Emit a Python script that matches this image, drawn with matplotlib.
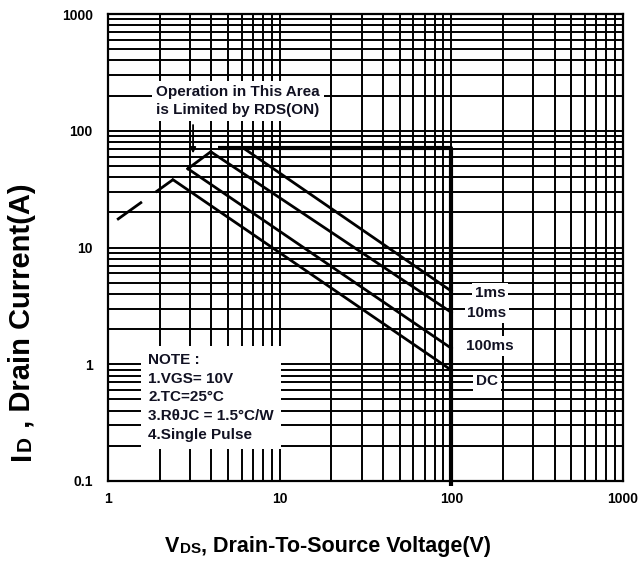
import matplotlib
matplotlib.use('Agg')
import matplotlib.pyplot as plt
from matplotlib.ticker import LogLocator, NullFormatter

plt.rcParams['font.family'] = ['Liberation Sans', 'DejaVu Sans']

# ---- data ----
x_ticks = [1, 10, 100, 1000]
x_tick_labels = ['1', '10', '100', '1000']
y_ticks = [0.1, 1, 10, 100, 1000]
y_tick_labels = ['0.1', '1', '10', '100', '1000']

rds_dash_v = [1.13, 2.39]
rds_dash_i = [17.3, 38.1]
rds_solid_v = [2.92, 3.97]
rds_solid_i = [47.3, 66.1]
limit_v = [4.36, 100, 100]
limit_i = [71.6, 71.6, 0.09]
dc_v = [2.39, 100]
dc_i = [38.1, 0.89]
ms100_v = [2.92, 100]
ms100_i = [47.3, 1.37]
ms10_v = [3.97, 100]
ms10_i = [66.1, 2.78]
ms1_v = [6.1, 100]
ms1_i = [71.6, 4.23]
curve_labels = ['1ms', '10ms', '100ms', 'DC']
note_lines = ['NOTE :', '1.VGS= 10V', '2.TC=25\u00b0C', '3.R\u03b8JC = 1.5\u00b0C/W', '4.Single Pulse']
rds_note = 'Operation in This Area\nis Limited by RDS(ON)'

W, H = 640, 562
fig = plt.figure(figsize=(W / 100, H / 100), dpi=100)
ax = fig.add_axes([108 / W, 1 - 481 / H, 515 / W, 467 / H])
ax.set_xscale('log')
ax.set_yscale('log')
ax.set_xlim(1, 1000)
ax.set_ylim(0.1, 1000)

ax.xaxis.set_minor_locator(LogLocator(base=10, subs=range(2, 10)))
ax.yaxis.set_minor_locator(LogLocator(base=10, subs=range(2, 10)))
ax.xaxis.set_minor_formatter(NullFormatter())
ax.yaxis.set_minor_formatter(NullFormatter())
ax.set_xticks(x_ticks, x_tick_labels)
ax.set_yticks(y_ticks, y_tick_labels)
ax.tick_params(which='both', length=0)
ax.tick_params(axis='x', pad=8, labelsize=10)
ax.tick_params(axis='y', pad=11, labelsize=10)
for lab in ax.get_xticklabels() + ax.get_yticklabels():
    lab.set_fontweight('bold')
ax.set_axisbelow(True)
ax.grid(which='both', color='black', lw=1.4)
for s in ax.spines.values():
    s.set_linewidth(1.6)
    s.set_color('black')

lw = 2.0
ax.plot(rds_dash_v, rds_dash_i, color='black', lw=lw, linestyle=(0, (11, 6)), zorder=3)
ax.plot(rds_solid_v, rds_solid_i, color='black', lw=lw, zorder=3)
ax.plot(limit_v, limit_i, color='black', lw=3.0, zorder=3, clip_on=False,
        solid_capstyle='butt')
for v, i in [(dc_v, dc_i), (ms100_v, ms100_i), (ms10_v, ms10_i), (ms1_v, ms1_i)]:
    ax.plot(v, i, color='black', lw=lw, zorder=3)

txtc = '#111122'
box = dict(facecolor='white', edgecolor='none', pad=2)
label_pos = [(0.742, 0.4026), (0.736, 0.360), (0.742, 0.289), (0.736, 0.214)]
for lab, (px, py) in zip(curve_labels, label_pos):
    ax.text(px, py, lab, transform=ax.transAxes, ha='center', va='center',
            fontsize=11, fontweight='bold', color=txtc, bbox=box, zorder=6)

ax.text(0.2524, 0.814, rds_note, transform=ax.transAxes, ha='center', va='center',
        fontsize=11, fontweight='bold', color=txtc, linespacing=1.4,
        bbox=dict(facecolor='white', edgecolor='none', pad=3), zorder=6)
ax.annotate('', xy=(3.13, 64), xytext=(3.13, 112),
            arrowprops=dict(arrowstyle='-|>', lw=1.3, color='black', mutation_scale=8,
                            shrinkA=0, shrinkB=0), zorder=7)

ax.text(0.0777, 0.2745, '\n'.join(note_lines), transform=ax.transAxes, ha='left', va='top',
        fontsize=11, fontweight='bold', color=txtc, linespacing=1.43,
        bbox=dict(facecolor='white', edgecolor='none', pad=5), zorder=6)

# ---- axis labels with small subscripts ----
fs_big, fs_small = 15.5, 11
t1 = fig.text(0.3, 1 - 552 / H, 'V', fontsize=fs_big, fontweight='bold', ha='left', va='baseline')
t2 = plt.annotate('DS', xy=(1, 0), xycoords=t1, xytext=(0.5, 1.0), textcoords='offset points',
                  ha='left', va='bottom',
                  fontsize=fs_small, fontweight='bold', annotation_clip=False)
t3 = plt.annotate(', Drain-To-Source Voltage(V)', xy=(1, 0), xycoords=(t2, t1),
                  ha='left', va='bottom',
                  fontsize=fs_big, fontweight='bold', annotation_clip=False)

fy_big, fy_small = 21, 15
u1 = fig.text(36 / W, 0.3, 'I', fontsize=fy_big, fontweight='bold', rotation=90,
              ha='right', va='bottom')
u2 = plt.annotate('D', xy=(1, 1), xycoords=u1, xytext=(-1.3, 0.5), textcoords='offset points',
                  ha='right', va='bottom', rotation=90,
                  fontsize=fy_small, fontweight='bold', annotation_clip=False)
u3 = plt.annotate(' , Drain Current(A)', xy=(1, 1), xycoords=(u1, u2), ha='right', va='bottom',
                  rotation=90, fontsize=fy_big, fontweight='bold', annotation_clip=False)

fig.canvas.draw()
r = fig.canvas.get_renderer()
b1 = t1.get_window_extent(r)
b3 = t3.get_window_extent(r)
wtot = b3.x1 - b1.x0
t1.set_x((328 - wtot / 2) / W)
c1 = u1.get_window_extent(r)
c3 = u3.get_window_extent(r)
htot = c3.y1 - c1.y0
yc = H - 322
u1.set_y((yc - htot / 2) / H)

fig.savefig('out.png', dpi=100)
